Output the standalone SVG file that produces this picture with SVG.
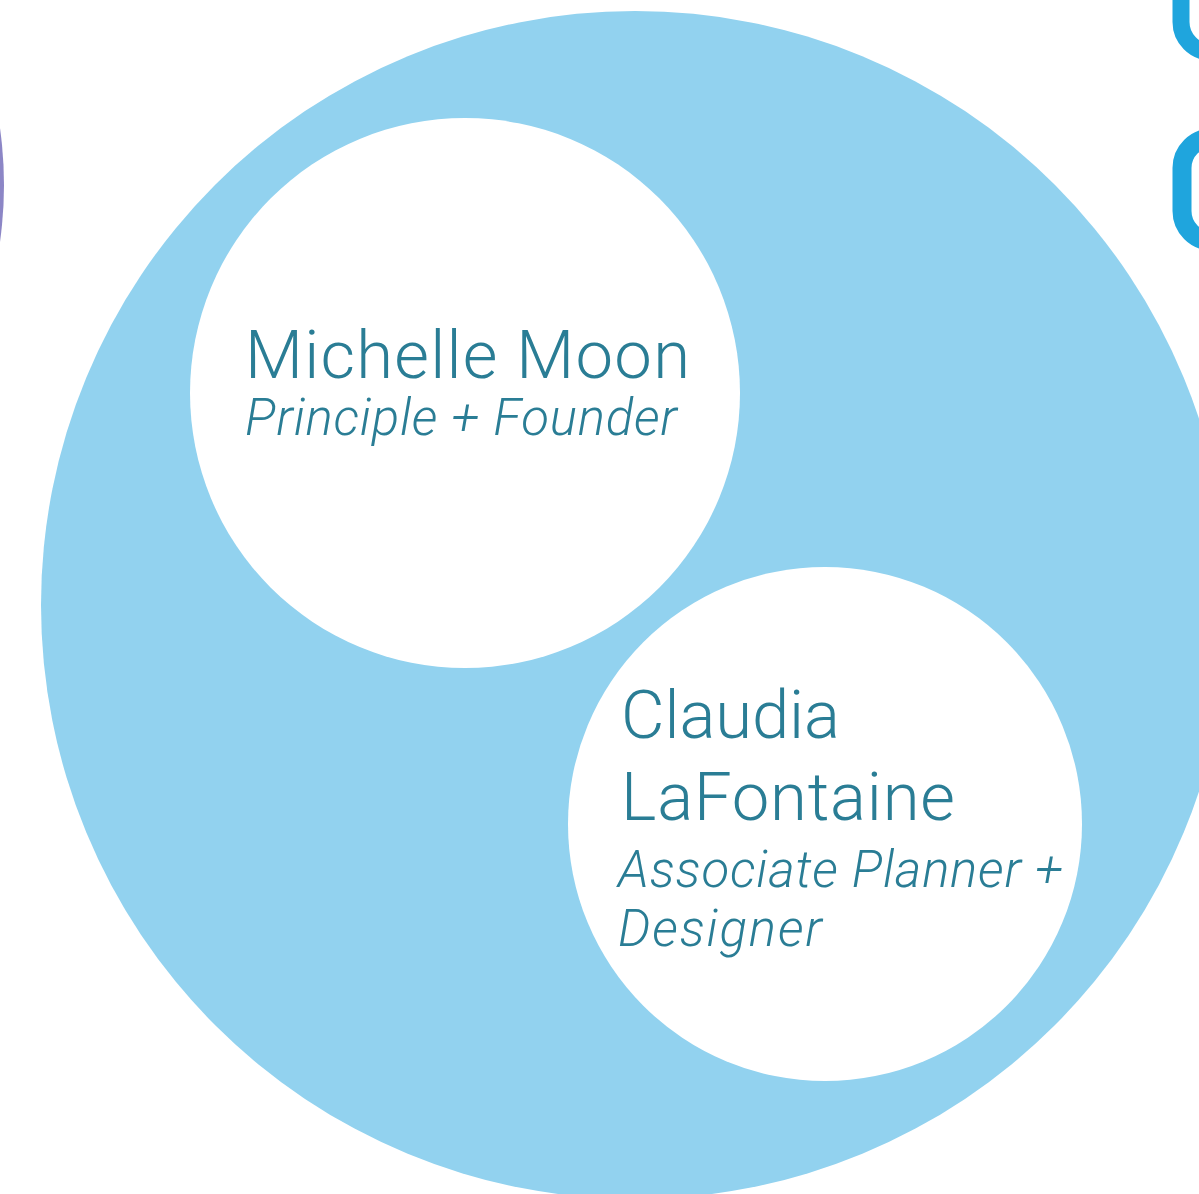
<svg xmlns="http://www.w3.org/2000/svg" width="1199" height="1194" viewBox="0 0 1199 1194">
<style>
.name{font-family:Roboto,"Liberation Sans",Arial,sans-serif;font-weight:300;font-size:67px;fill:#2a7d95;}
.role{font-family:Roboto,"Liberation Sans",Arial,sans-serif;font-weight:300;font-size:51px;font-style:italic;fill:#2a7d95;}
.frag{fill:none;stroke:#1fa5dd;}
</style>
<rect width="1199" height="1194" fill="#ffffff"/>
<g id="edge-left"><circle cx="-400" cy="185" r="404" fill="#8c86c6"/></g>
<g id="heading-fragments">
<rect class="frag" x="1181" y="-100" width="100" height="152" rx="30" stroke-width="17"/>
<rect class="frag" x="1182" y="138" width="100" height="103" rx="30" stroke-width="19"/>
</g>
<g id="team"><circle cx="635" cy="605" r="594" fill="#92d2ef"/></g>
<g id="michelle">
<circle cx="465" cy="393" r="275" fill="#ffffff"/>
<text class="name" x="245" y="378" textLength="445" lengthAdjust="spacing">Michelle Moon</text>
<text class="role" x="245" y="435" textLength="432" lengthAdjust="spacing">Principle + Founder</text>
</g>
<g id="claudia">
<circle cx="825" cy="824" r="257" fill="#ffffff"/>
<text class="name" x="621" y="738" textLength="219" lengthAdjust="spacing">Claudia</text>
<text class="name" x="621" y="820" textLength="334" lengthAdjust="spacing">LaFontaine</text>
<text class="role" x="618" y="887" textLength="445" lengthAdjust="spacing">Associate Planner +</text>
<text class="role" x="618" y="946" textLength="204" lengthAdjust="spacing">Designer</text>
</g>
<g id="connectors"/>
</svg>
